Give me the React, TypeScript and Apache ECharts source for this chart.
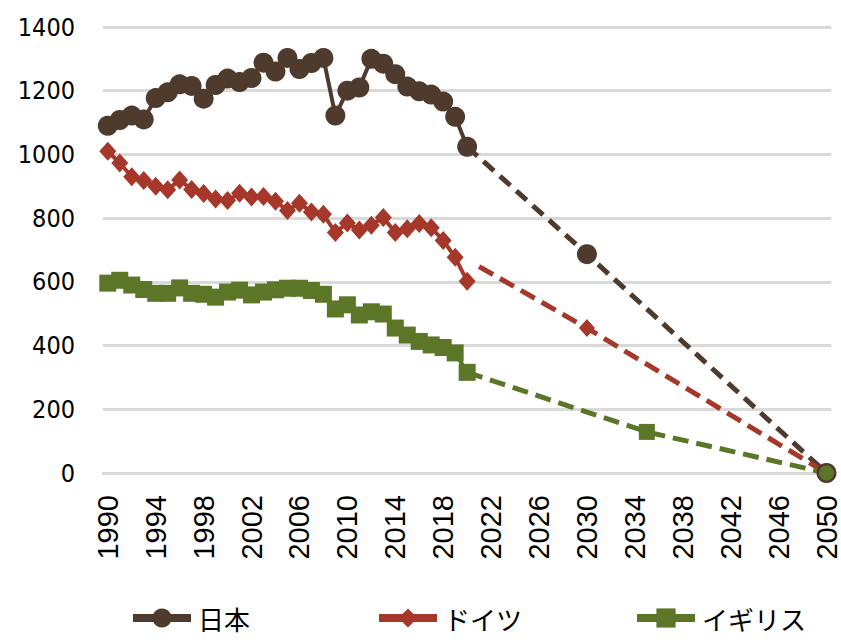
import React, { useEffect, useRef } from "react";
import * as echarts from "echarts";

// Recorded years
const years = [
  1990, 1991, 1992, 1993, 1994, 1995, 1996, 1997, 1998, 1999, 2000, 2001, 2002, 2003, 2004, 2005,
  2006, 2007, 2008, 2009, 2010, 2011, 2012, 2013, 2014, 2015, 2016, 2017, 2018, 2019, 2020,
];

// Recorded emissions per country
const japanActual = [
  1090, 1108, 1122, 1110, 1177, 1195, 1220, 1215, 1175, 1218, 1238, 1227, 1240, 1288, 1260, 1303,
  1268, 1287, 1303, 1122, 1200, 1210, 1300, 1285, 1252, 1213, 1198, 1188, 1166, 1118, 1024,
];
const germanyActual = [
  1010, 973, 930, 918, 900, 889, 920, 890, 877, 860, 855, 878, 866, 868, 853, 824,
  847, 819, 812, 755, 785, 763, 778, 802, 755, 767, 783, 770, 730, 677, 602,
];
const ukActual = [
  596, 605, 590, 576, 564, 564, 581, 564, 561, 552, 568, 574, 559, 568, 575, 580,
  580, 573, 561, 515, 528, 496, 506, 499, 455, 433, 413, 402, 394, 377, 316,
];

// Target pathways (dashed)
const japanPathYears = [2020, 2030, 2050];
const japanPathValues = [1024, 687, 0];
const germanyPathYears = [2021, 2030, 2050];
const germanyPathValues = [648, 455, 0];
const ukPathYears = [2020, 2035, 2050];
const ukPathValues = [316, 129, 0];

// Axis labels
const xTickYears = [1990, 1994, 1998, 2002, 2006, 2010, 2014, 2018, 2022, 2026, 2030, 2034, 2038, 2042, 2046, 2050];
const yTicks = [0, 200, 400, 600, 800, 1000, 1200, 1400];

const names = ["日本", "ドイツ", "イギリス"];
const COLORS = ["#4e3b2d", "#a5382a", "#5b7626"];

export default function App() {
  const ref = useRef<HTMLDivElement>(null);

  useEffect(() => {
    if (!ref.current) return;
    const chart = echarts.init(ref.current, undefined, { renderer: "svg" });

    const pair = (xs: number[], vs: number[]) => xs.map((x, i) => [x, vs[i]]);

    const japanPath = pair(japanPathYears, japanPathValues).map((p, i) =>
      i === 0 ? { value: p, symbol: "none" } : { value: p }
    );
    const germanyPath = pair(germanyPathYears, germanyPathValues).map((p, i) =>
      i === 0 || i === 2 ? { value: p, symbol: "none" } : { value: p }
    );
    const ukPath = pair(ukPathYears, ukPathValues).map((p, i) =>
      i === 0
        ? { value: p, symbol: "none" }
        : i === 2
        ? { value: p, symbol: "circle", symbolSize: 15 }
        : { value: p }
    );

    const legendBase = {
      orient: "horizontal",
      top: 604,
      padding: 0,
      itemWidth: 58,
      itemHeight: 24,
      itemGap: 0,
      lineStyle: { width: 8 },
      textStyle: {
        fontFamily: "'Noto Sans CJK JP', sans-serif",
        fontSize: 26,
        lineHeight: 28,
        color: "#000",
        padding: [0, 0, 0, 2],
      },
    };

    chart.setOption({
      animation: false,
      backgroundColor: "#fff",
      grid: { left: 103, right: 8, top: 27, bottom: 167, containLabel: false },
      legend: [
        { ...legendBase, left: 129, data: [names[0]] },
        { ...legendBase, left: 375, data: [names[1]] },
        { ...legendBase, left: 633, data: [names[2]] },
      ],
      xAxis: {
        type: "value",
        min: 1989.6,
        max: 2050.4,
        axisLine: { show: true, onZero: true, lineStyle: { color: "#d9d9d9", width: 3 } },
        axisTick: { show: false },
        splitLine: { show: false },
        axisLabel: {
          customValues: xTickYears,
          rotate: 90,
          margin: 22,
          color: "#000",
          fontFamily: "'Liberation Sans', Arial, sans-serif",
          fontSize: 29,
          formatter: (v: number) => String(v),
        },
      },
      yAxis: {
        type: "value",
        min: yTicks[0],
        max: yTicks[yTicks.length - 1],
        interval: 200,
        axisLine: { show: false },
        axisTick: { show: false },
        splitLine: { lineStyle: { color: "#d9d9d9", width: 3 } },
        axisLabel: {
          margin: 28,
          color: "#000",
          fontFamily: "'DejaVu Sans Condensed', 'Liberation Sans Narrow', sans-serif",
          fontSize: 25,
          formatter: (v: number) => String(v),
        },
      },
      series: [
        {
          name: names[0],
          type: "line",
          clip: false,
          data: pair(years, japanActual),
          symbol: "circle",
          symbolSize: 20,
          color: COLORS[0],
          lineStyle: { color: COLORS[0], width: 4 },
          itemStyle: { color: COLORS[0] },
        },
        {
          name: names[0],
          type: "line",
          clip: false,
          data: japanPath,
          symbol: "circle",
          symbolSize: 20,
          color: COLORS[0],
          lineStyle: { color: COLORS[0], width: 5, type: [14, 8] },
          itemStyle: { color: COLORS[0] },
        },
        {
          name: names[1],
          type: "line",
          clip: false,
          data: pair(years, germanyActual),
          symbol: "diamond",
          symbolSize: [17, 19],
          color: COLORS[1],
          lineStyle: { color: COLORS[1], width: 4 },
          itemStyle: { color: COLORS[1] },
        },
        {
          name: names[1],
          type: "line",
          clip: false,
          data: germanyPath,
          symbol: "diamond",
          symbolSize: [16, 18],
          color: COLORS[1],
          lineStyle: { color: COLORS[1], width: 5, type: [16, 8] },
          itemStyle: { color: COLORS[1] },
        },
        {
          name: names[2],
          type: "line",
          clip: false,
          data: pair(years, ukActual),
          symbol: "rect",
          symbolSize: 17,
          color: COLORS[2],
          lineStyle: { color: COLORS[2], width: 4 },
          itemStyle: { color: COLORS[2] },
        },
        {
          name: names[2],
          type: "line",
          clip: false,
          data: ukPath,
          symbol: "rect",
          symbolSize: 16,
          color: COLORS[2],
          lineStyle: { color: COLORS[2], width: 5, type: [16, 8] },
          itemStyle: { color: COLORS[2] },
        },
      ],
    });

    return () => chart.dispose();
  }, []);

  return (
    <div
      ref={ref}
      style={{ position: "fixed", left: 0, top: 0, width: 841, height: 640, background: "#fff" }}
    />
  );
}
